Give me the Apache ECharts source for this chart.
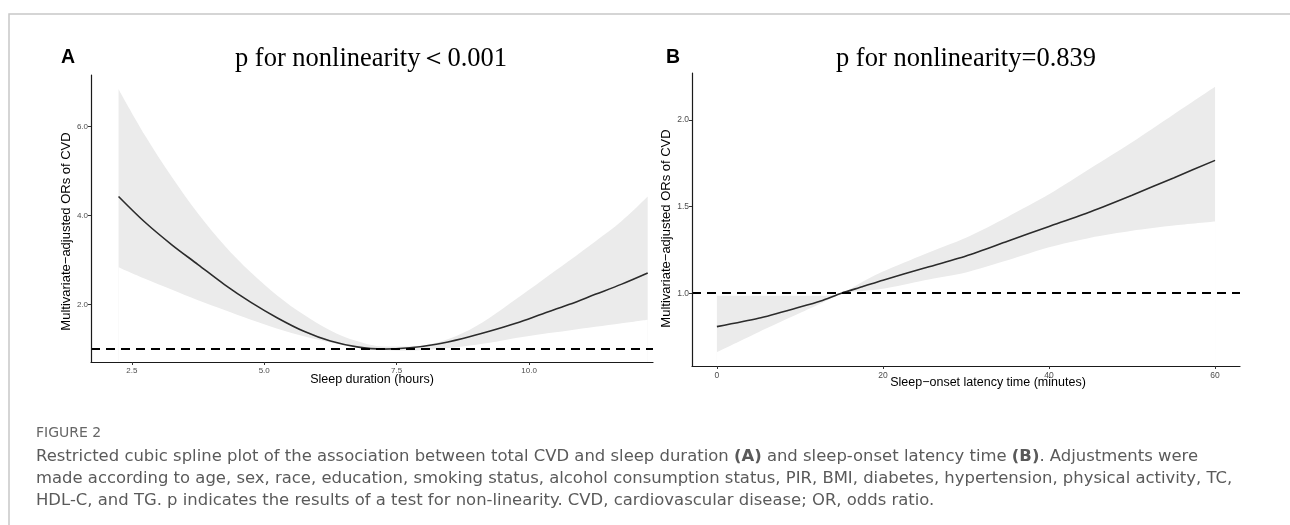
<!DOCTYPE html>
<html>
<head>
<meta charset="utf-8">
<script src="https://cdn.jsdelivr.net/npm/echarts@6/dist/echarts.min.js"></script>
<style>
html,body{margin:0;padding:0;background:#fff;}
#chart{width:1290px;height:525px;}
</style>
</head>
<body>
<div id="chart"></div>
<script>
// ---------- Data ----------
// Panel A: sleep duration (hours)
const xA = [2.25, 2.75, 3.25, 3.75, 4.25, 4.75, 5.25, 5.75, 6.25, 6.75, 7.25, 7.75, 8.25, 8.75, 9.25, 9.75, 10.25, 10.75, 11.25, 11.75, 12.24];
const centerA = [4.43, 3.85, 3.35, 2.90, 2.45, 2.05, 1.70, 1.40, 1.18, 1.05, 1.00, 1.03, 1.11, 1.24, 1.40, 1.58, 1.79, 2.00, 2.23, 2.46, 2.71];
const lowerA  = [2.84, 2.58, 2.34, 2.10, 1.88, 1.66, 1.46, 1.29, 1.15, 1.05, 0.98, 0.97, 1.00, 1.06, 1.14, 1.25, 1.34, 1.42, 1.50, 1.58, 1.66];
const upperA  = [6.84, 5.80, 4.88, 4.05, 3.33, 2.72, 2.20, 1.77, 1.42, 1.18, 1.06, 1.06, 1.14, 1.36, 1.70, 2.12, 2.55, 2.98, 3.42, 3.88, 4.43];
const ticksAx = [2.5, 5.0, 7.5, 10.0];
const ticksAy = [2.0, 4.0, 6.0];

// Panel B: sleep-onset latency time (minutes)
const xB = [0, 5, 10, 12.5, 15, 17.5, 20, 25, 30, 35, 40, 45, 50, 55, 60];
const centerB = [0.807, 0.855, 0.92, 0.955, 1.0, 1.037, 1.075, 1.145, 1.215, 1.30, 1.385, 1.47, 1.565, 1.665, 1.766];
const lowerB  = [0.66, 0.775, 0.885, 0.94, 1.0, 1.012, 1.025, 1.075, 1.12, 1.19, 1.265, 1.32, 1.36, 1.39, 1.413];
const upperB  = [0.985, 0.985, 0.985, 0.985, 1.0, 1.065, 1.125, 1.225, 1.32, 1.44, 1.57, 1.72, 1.87, 2.03, 2.19];
const ticksBx = [0, 20, 40, 60];
const ticksBy = [1.0, 1.5, 2.0];

const refLine = 1.0;

// Text
const titleA = 'p for nonlinearity\uFF1C0.001';
const titleB = 'p for nonlinearity=0.839';
const yName = 'Multivariate\u2212adjusted ORs of CVD';
const xNameA = 'Sleep duration (hours)';
const xNameB = 'Sleep\u2212onset latency time (minutes)';
const figLabel = 'FIGURE 2';
const captionLines = [
  'Restricted cubic spline plot of the association between total CVD and sleep duration {b|(A)} and sleep-onset latency time {b|(B)}. Adjustments were',
  'made according to age, sex, race, education, smoking status, alcohol consumption status, PIR, BMI, diabetes, hypertension, physical activity, TC,',
  'HDL-C, and TG. p indicates the results of a test for non-linearity. CVD, cardiovascular disease; OR, odds ratio.'
];

// ---------- Build ----------
const zip = (xs, ys) => xs.map((x, i) => [x, ys[i]]);

const BAND = '#ebebeb';
const LINE = '#2b2b2b';
const TICKLBL = '#4d4d4d';
const SANS = '"Liberation Sans", Arial, Helvetica, sans-serif';
const SERIF = '"Liberation Serif", "Times New Roman", serif';
const CAP = '"DejaVu Sans", Verdana, sans-serif';

function axisX(idx, min, max, ticks, name, fs, namePad, gap, dec) {
  return {
    type: 'value', gridIndex: idx, min: min, max: max, z: 10,
    splitLine: {show: false},
    axisLine: {show: true, onZero: false, lineStyle: {color: '#1a1a1a', width: 1.2}},
    axisTick: {show: true, length: 3, lineStyle: {color: '#333'}, customValues: ticks},
    axisLabel: {show: true, customValues: ticks, color: TICKLBL, fontSize: fs, fontFamily: SANS, margin: 5,
      formatter: v => v.toFixed(dec)},
    name: name, nameLocation: 'middle', nameGap: gap, nameMoveOverlap: false,
    nameTextStyle: {color: '#000', fontSize: 12.5, fontFamily: SANS, padding: namePad}
  };
}
function axisY(idx, min, max, ticks, fs, namePad, gap) {
  return {
    type: 'value', gridIndex: idx, min: min, max: max, z: 10,
    splitLine: {show: false},
    axisLine: {show: true, onZero: false, lineStyle: {color: '#1a1a1a', width: 1.2}},
    axisTick: {show: true, length: 3, lineStyle: {color: '#333'}, customValues: ticks},
    axisLabel: {show: true, customValues: ticks, color: TICKLBL, fontSize: fs, fontFamily: SANS, margin: 3,
      formatter: v => v.toFixed(1)},
    name: yName, nameLocation: 'middle', nameGap: gap,
    nameTextStyle: {color: '#000', fontSize: 13, fontFamily: SANS, padding: namePad}
  };
}
function panelSeries(idx, xs, c, lo, up, sm) {
  const base = {type: 'line', xAxisIndex: idx, yAxisIndex: idx, symbol: 'none', smooth: sm, silent: true};
  return [
    // confidence band: grey fill under the upper bound ...
    Object.assign({}, base, {data: zip(xs, up), lineStyle: {opacity: 0},
      areaStyle: {color: BAND, opacity: 1, origin: 'start'}, z: 1}),
    // ... masked in white under the lower bound
    Object.assign({}, base, {data: zip(xs, lo), lineStyle: {opacity: 0},
      areaStyle: {color: '#ffffff', opacity: 1, origin: 'start'}, z: 2}),
    Object.assign({}, base, {data: zip(xs, c), lineStyle: {color: LINE, width: 1.6}, z: 3,
      markLine: {silent: true, symbol: 'none', label: {show: false},
        lineStyle: {type: [9, 6], color: '#000', width: 2}, data: [{yAxis: refLine}]}})
  ];
}

const titles = [
  {text: 'A', left: 61, top: 48, padding: 0, textStyle: {fontFamily: SANS, fontWeight: 'bold', fontSize: 19.5, color: '#000'}},
  {text: 'B', left: 666, top: 48, padding: 0, textStyle: {fontFamily: SANS, fontWeight: 'bold', fontSize: 19.5, color: '#000'}},
  {text: titleA, left: 371, top: 46, padding: 0, textAlign: 'center', textStyle: {fontFamily: SERIF, fontWeight: 'normal', fontSize: 26.5, color: '#000'}},
  {text: titleB, left: 966, top: 46, padding: 0, textAlign: 'center', textStyle: {fontFamily: SERIF, fontWeight: 'normal', fontSize: 26.5, color: '#000'}},
  {text: figLabel, left: 36, top: 426, padding: 0, textStyle: {fontFamily: CAP, fontWeight: 'normal', fontSize: 14, color: '#666'}}
];
captionLines.forEach((t, i) => {
  titles.push({text: t, left: 36, top: 449 + i * 22, padding: 0,
    textStyle: {fontFamily: CAP, fontWeight: 'normal', fontSize: 16.45, color: '#5a5a5a',
      rich: {b: {fontFamily: CAP, fontWeight: 'bold', fontSize: 16.45, color: '#5a5a5a'}}}});
});

const option = {
  animation: false,
  backgroundColor: '#fff',
  title: titles,
  grid: [
    {left: 91, top: 75, width: 562, height: 287},
    {left: 692, top: 73, width: 548, height: 293}
  ],
  xAxis: [
    axisX(0, 1.73, 12.34, ticksAx, xNameA, 8, [0, 0, 0, 0], 11, 1),
    axisX(1, -3, 63, ticksBx, xNameB, 8.5, [0, 0, 0, 44], 10, 0)
  ],
  yAxis: [
    axisY(0, 0.71, 7.16, ticksAy, 8, [0, 26, 0, 0], 18),
    axisY(1, 0.58, 2.27, ticksBy, 8.5, [0, 18, 0, 0], 17)
  ],
  series: [].concat(panelSeries(0, xA, centerA, lowerA, upperA, 0.35), panelSeries(1, xB, centerB, lowerB, upperB, 0.25)),
  graphic: [
    {type: 'polyline', silent: true, shape: {points: [[9, 525], [9, 14], [1290, 14]]},
     style: {stroke: '#c8c8c8', lineWidth: 1.5, fill: null}}
  ]
};

const chart = echarts.init(document.getElementById('chart'), null, {renderer: 'canvas'});
chart.setOption(option);
</script>
</body>
</html>
